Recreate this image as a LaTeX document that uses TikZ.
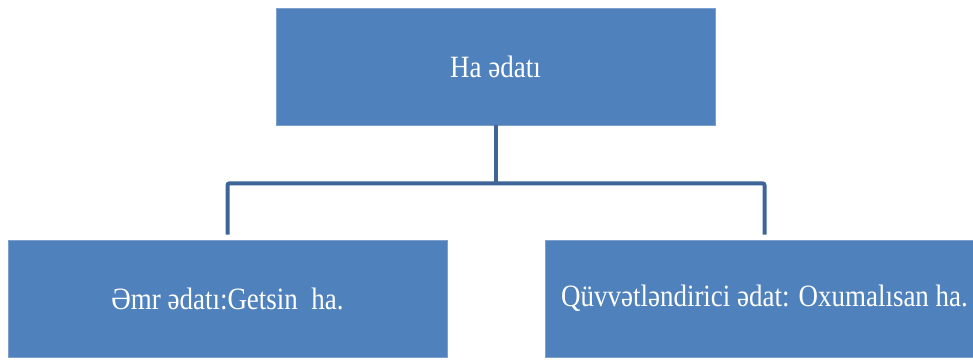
\documentclass[tikz,border=0pt]{standalone}
\usepackage{fontspec}
\setmainfont[FakeStretch=0.87]{Liberation Serif}
\usetikzlibrary{calc}
\definecolor{boxblue}{HTML}{4F81BD}
\definecolor{boxedge}{HTML}{7FA0CF}
\definecolor{linkblue}{HTML}{3D6597}
\tikzset{
  box/.style={rectangle, fill=boxblue, draw=boxedge, line width=0.6pt,
    minimum width=439pt, minimum height=117pt, inner sep=0pt,
    text=white, font=\fontsize{31}{35}\selectfont},
  link/.style={draw=linkblue, line width=4pt, rounded corners=2pt}
}
\begin{document}
\begin{tikzpicture}[x=1pt,y=-1pt]
                \useasboundingbox (0,0) rectangle (973,359);
                \clip (0,0) rectangle (973,359);
                \node[box] (top) at (495.5,66.5) {Ha ədatı};
                \node[box] (left) at (227.5,298.5) {Əmr ədatı:Getsin\ \ ha.};
                \node[box] (right) at (764.5,298.5) {Qüvvətləndirici ədat: Oxumalısan ha.};
                \coordinate (bar) at ($(top.south)+(0,58)$);
                \draw[link] (top.south) -- (bar);
                \draw[link, shorten <=5pt, shorten >=5pt] (left.north) |- (bar) -| (right.north);
            \end{tikzpicture}
\end{document}
